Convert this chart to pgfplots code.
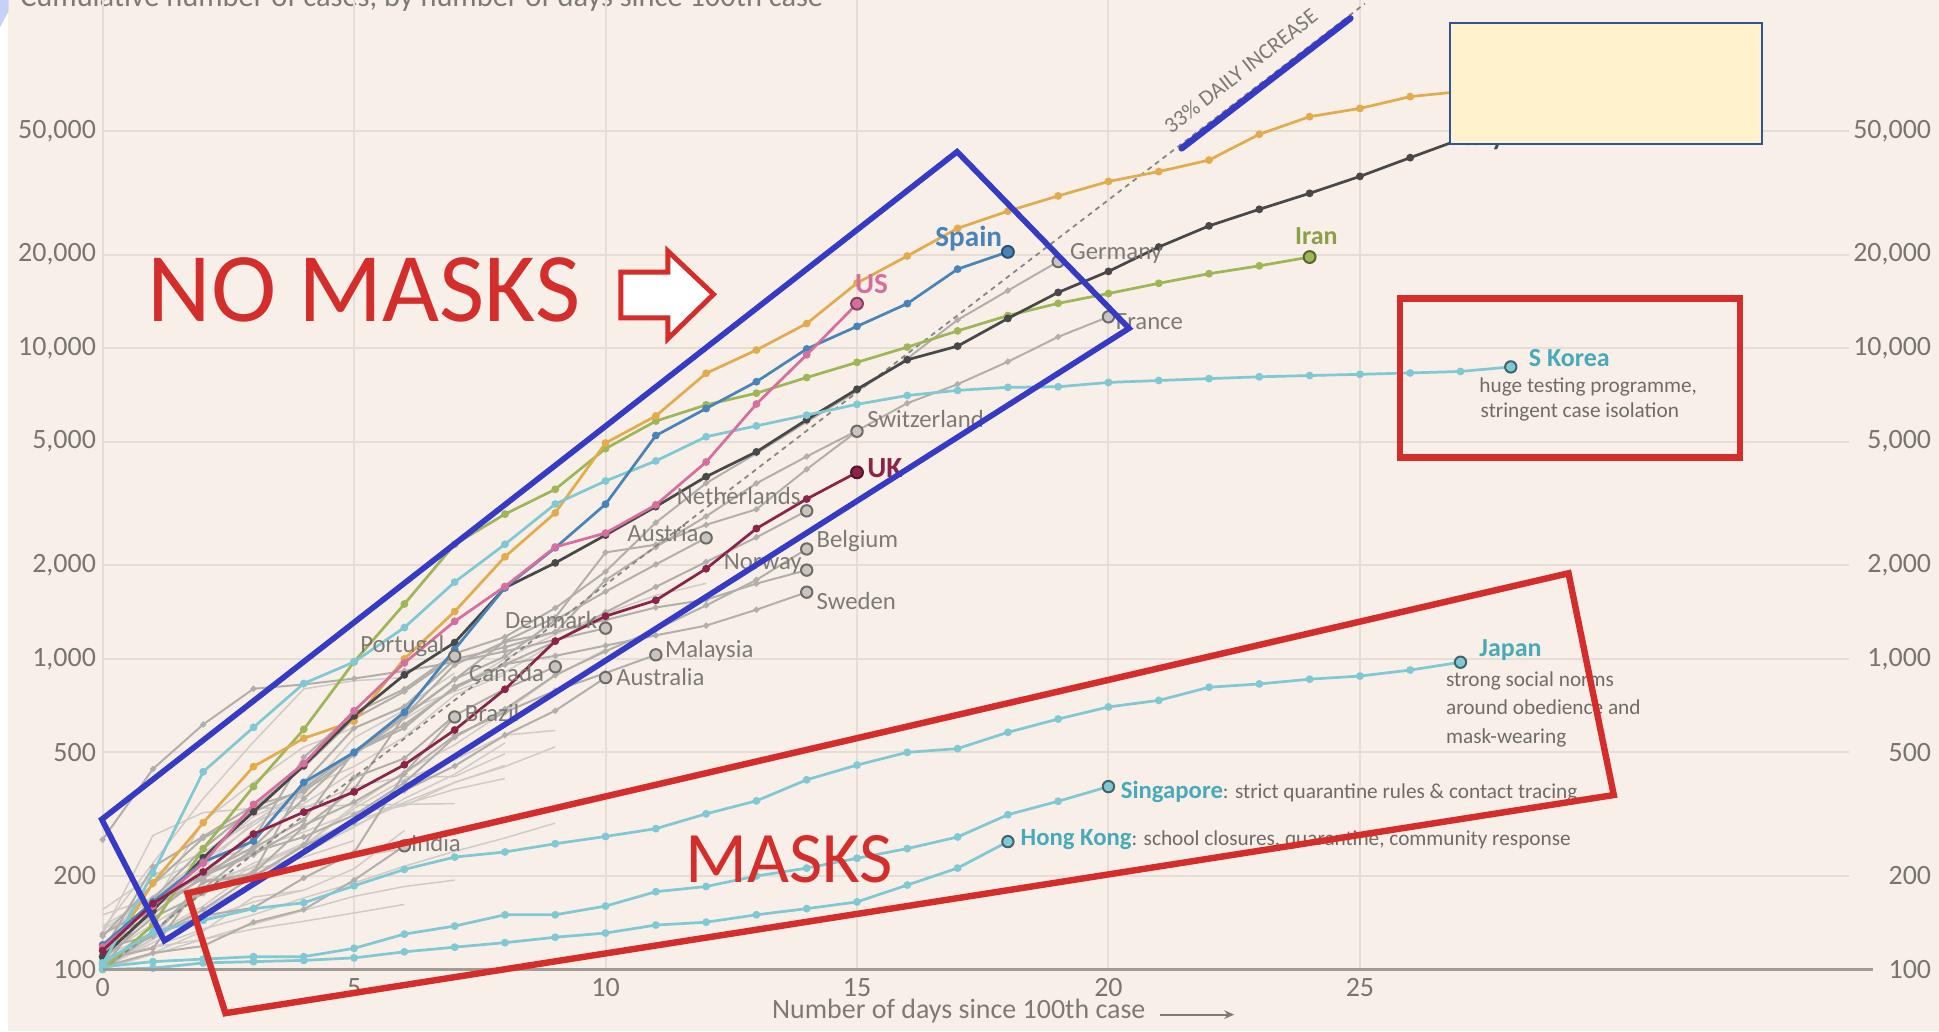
\documentclass[border=0pt]{standalone}
\usepackage{pgfplots}
\pgfplotsset{compat=1.18}
\usepackage{fontspec}
\setmainfont{Carlito}
\usetikzlibrary{arrows.meta}

\definecolor{bg}{RGB}{248,240,232}
\definecolor{gridc}{RGB}{230,222,214}
\definecolor{axisc}{RGB}{160,155,150}
\definecolor{tickc}{RGB}{120,116,112}
\definecolor{labG}{RGB}{125,122,118}
\definecolor{noteG}{RGB}{110,107,104}
\definecolor{dashC}{RGB}{135,132,128}
\definecolor{cornerC}{RGB}{198,210,245}
\definecolor{orangeL}{RGB}{226,172,78}
\definecolor{italyL}{RGB}{72,72,72}
\definecolor{spainL}{RGB}{72,132,186}
\definecolor{usL}{RGB}{214,110,158}
\definecolor{ukL}{RGB}{140,35,72}
\definecolor{iranL}{RGB}{158,182,88}
\definecolor{iranT}{RGB}{140,158,70}
\definecolor{tealL}{RGB}{128,200,210}
\definecolor{tealT}{RGB}{72,170,185}
\definecolor{grayL}{RGB}{178,174,170}
\definecolor{grayE}{RGB}{200,196,192}
\definecolor{grayD}{RGB}{110,106,102}
\definecolor{grayU}{RGB}{208,203,198}
\definecolor{annBlue}{RGB}{55,58,196}
\definecolor{annRed}{RGB}{212,46,44}
\definecolor{boxFill}{RGB}{255,242,204}
\definecolor{boxEdge}{RGB}{47,85,151}

\pgfplotsset{
  gU/.style={draw=grayU, line width=0.6pt, mark=none},
  gL/.style={draw=grayL, line width=0.8pt, mark=*, mark size=0.8pt, mark options={fill=grayL, draw=grayL}},
  cL/.style={line width=1.1pt, mark=*, mark size=1.0pt},
  endG/.style={only marks, mark=*, mark size=2.3pt, mark options={fill=grayE, draw=grayD, line width=0.8pt}},
}
\tikzset{
  glab/.style={anchor=base west, inner sep=0pt, font=\fontsize{10}{12}\selectfont, text=labG},
  clab/.style={anchor=base west, inner sep=0pt, font=\fontsize{10.5}{12}\selectfont\bfseries},
  blab/.style={anchor=base west, inner sep=0pt, font=\fontsize{11.8}{13}\selectfont\bfseries},
  note/.style={anchor=base west, inner sep=0pt, font=\fontsize{8.6}{10}\selectfont, text=noteG},
}

\begin{document}
\begin{tikzpicture}
\useasboundingbox (0,0) rectangle (784pt,-417pt);
\fill[bg] (0,0) rectangle (784pt,-417pt);
\begin{scope}[x=0.5pt,y=-0.5pt]
  \fill[white] (0,0) rectangle (6.5,834);
  \fill[cornerC] (0,0) -- (7,0) -- (7,9) -- (0,22) -- cycle;
  \begin{scope}
    \clip (0,0) rectangle (1568,834);
    \node[anchor=base west, inner sep=0pt, text=labG, font=\fontsize{12.3}{14}\selectfont] at (16,5) {Cumulative number of cases, by number of days since 100th case};
  \end{scope}
\end{scope}

% right-hand tick labels
\begin{axis}[
  at={(41.5pt,-392pt)}, anchor=south west,
  scale only axis, width=706pt, height=392pt,
  xmin=0, xmax=34.72, ymin=100, ymax=132000, ymode=log,
  hide x axis, axis y line*=right, y axis line style={draw=none},
  major tick length=0pt, yminorticks=false,
  ytick={100,200,500,1000,2000,5000,10000,20000,50000},
  yticklabels={100,200,500,{1,000},{2,000},{5,000},{10,000},{20,000},{50,000}},
  yticklabel style={font=\fontsize{11.3}{13}\selectfont, text=tickc, anchor=east, inner xsep=0pt, xshift=33.5pt},
]
\addplot[draw=none] coordinates {(0,100)};
\end{axis}

\begin{axis}[
  at={(41.5pt,-392pt)}, anchor=south west,
  scale only axis, width=706pt, height=392pt,
  xmin=0, xmax=34.72, ymin=100, ymax=132000, ymode=log,
  axis line style={draw=none},
  major tick length=0pt, yminorticks=false,
  xtick={0,5,10,15,20,25}, xticklabels={0,5,10,15,20,25},
  ytick={100,200,500,1000,2000,5000,10000,20000,50000},
  yticklabels={100,200,500,{1,000},{2,000},{5,000},{10,000},{20,000},{50,000}},
  grid=major, major grid style={draw=gridc, line width=0.8pt},
  ticklabel style={font=\fontsize{11.3}{13}\selectfont, text=tickc},
  yticklabel style={anchor=east, inner xsep=2.5pt},
  clip mode=individual,
]
% ---------- unlabelled grey countries ----------
\addplot[gU] coordinates {(0,100)(1,125)(2,155)(3,190)(4,235)(5,290)(6,345)(7,400)(8,454)};
\addplot[gU] coordinates {(0,110)(1,140)(2,175)(3,215)(4,255)(5,300)(6,340)(7,380)(8,412)};
\addplot[gU] coordinates {(0,105)(1,118)(2,135)(3,150)(4,170)(5,190)(6,215)(7,240)(8,265)(9,296)};
\addplot[gU] coordinates {(0,100)(1,112)(2,125)(3,140)(4,155)(5,172)(6,185)(7,194)};
\addplot[gU] coordinates {(0,110)(1,118)(2,125)(3,135)(4,143)(5,152)(6,162)};
\addplot[gU] coordinates {(0,130)(1,270)(2,320)(3,330)(4,335)(5,338)(6,340)(7,342)};
\addplot[gU] coordinates {(0,135)(1,220)(2,355)(3,540)(4,800)(5,850)(6,870)};
\addplot[gU] coordinates {(0,100)(1,126)(2,193)(3,213)(4,250)(5,337)(6,433)(7,529)(8,677)(9,883)(10,1071)};
\addplot[gU] coordinates {(0,129)(1,169)(2,223)(3,292)(4,366)(5,557)(6,683)(7,785)(8,906)(9,1125)};
\addplot[gU] coordinates {(0,116)(1,150)(2,214)(3,298)(4,383)(5,450)(6,560)(7,765)(8,889)};
\addplot[gU] coordinates {(0,117)(1,190)(2,228)(3,331)(4,331)(5,387)(6,418)(7,418)(8,495)};
\addplot[gU] coordinates {(0,109)(1,155)(2,225)(3,244)(4,277)(5,321)(6,336)(7,400)(8,450)(9,521)};
\addplot[gU] coordinates {(0,138)(1,171)(2,180)(3,220)(4,250)(5,330)(6,409)(7,473)(8,568)(9,588)};
\addplot[gU] coordinates {(0,104)(1,125)(2,155)(3,201)(4,238)(5,287)(6,355)(7,425)(8,536)};
\addplot[gU] coordinates {(0,156)(1,201)(2,238)(3,300)(4,342)(5,434)};
\addplot[gU] coordinates {(0,100)(1,113)(2,133)(3,171)(4,180)(5,211)(6,280)};
\addplot[gU] coordinates {(0,110)(1,130)(2,160)(3,210)(4,230)(5,260)};
\addplot[gU] coordinates {(0,134)(1,172)(2,227)(3,311)(4,369)};
\addplot[gU] coordinates {(0,101)(1,122)(2,145)(3,165)(4,180)};
\addplot[gU] coordinates {(0,150)(1,170)(2,185)(3,200)(4,215)(5,230)(6,245)};
\addplot[gU] coordinates {(0,120)(1,160)(2,300)(3,400)(4,520)(5,600)(6,700)(7,900)};
\addplot[gU] coordinates {(0,112)(1,150)(2,200)(3,280)(4,390)(5,500)(6,640)(7,800)(8,1000)(9,1200)(10,1400)(11,1600)(12,1750)};

% ---------- labelled grey countries ----------
\addplot[gL] coordinates {(0,130)(1,159)(2,196)(3,262)(4,482)(5,670)(6,799)(7,1040)(8,1176)(9,1457)(10,1908)(11,2745)(12,3675)(13,4585)(14,5795)(15,7272)(16,9257)(17,12327)(18,15320)(19,19000)}; % Germany
\addplot[gL] coordinates {(0,100)(1,130)(2,191)(3,204)(4,288)(5,380)(6,656)(7,957)(8,1134)(9,1217)(10,1792)(11,2289)(12,2876)(13,3672)(14,4480)(15,5423)(16,6650)(17,7652)(18,9043)(19,10871)(20,12612)}; % France
\addplot[gL] coordinates {(0,114)(1,214)(2,268)(3,337)(4,374)(5,491)(6,652)(7,858)(8,1139)(9,1359)(10,2200)(11,2330)(12,2700)(13,3028)(14,4075)(15,5400)}; % Switzerland
\addplot[gL] coordinates {(0,128)(1,188)(2,265)(3,321)(4,382)(5,503)(6,614)(7,804)(8,959)(9,1135)(10,1413)(11,1705)(12,2051)(13,2460)(14,2994)}; % Netherlands
\addplot[gL] coordinates {(0,104)(1,131)(2,182)(3,246)(4,302)(5,504)(6,655)(7,860)(8,1018)(9,1332)(10,1646)(11,2013)(12,2450)}; % Austria
\addplot[gL] coordinates {(0,109)(1,169)(2,200)(3,239)(4,267)(5,314)(6,399)(7,559)(8,689)(9,886)(10,1058)(11,1243)(12,1486)(13,1795)(14,2257)}; % Belgium
\addplot[gL] coordinates {(0,108)(1,147)(2,176)(3,205)(4,400)(5,598)(6,702)(7,996)(8,1090)(9,1221)(10,1333)(11,1463)(12,1550)(13,1746)(14,1930)}; % Norway
\addplot[gL] coordinates {(0,101)(1,161)(2,203)(3,248)(4,355)(5,500)(6,599)(7,814)(8,961)(9,1022)(10,1103)(11,1190)(12,1279)(13,1439)(14,1639)}; % Sweden
\addplot[gL] coordinates {(0,262)(1,442)(2,615)(3,801)(4,827)(5,864)(6,914)(7,977)(8,1057)(9,1151)(10,1255)}; % Denmark
\addplot[gL] coordinates {(0,117)(1,129)(2,149)(3,158)(4,197)(5,238)(6,428)(7,566)(8,673)(9,790)(10,900)(11,1030)}; % Malaysia
\addplot[gL] coordinates {(0,107)(1,128)(2,156)(3,200)(4,250)(5,297)(6,377)(7,452)(8,568)(9,681)(10,870)}; % Australia
\addplot[gL] coordinates {(0,108)(1,117)(2,193)(3,198)(4,252)(5,415)(6,478)(7,657)(8,800)(9,943)}; % Canada
\addplot[gL] coordinates {(0,112)(1,169)(2,245)(3,331)(4,448)(5,642)(6,785)(7,1020)}; % Portugal
\addplot[gL] coordinates {(0,121)(1,151)(2,200)(3,234)(4,291)(5,346)(6,428)(7,650)}; % Brazil
\addplot[gL] coordinates {(0,102)(1,113)(2,119)(3,142)(4,156)(5,194)(6,250)}; % India

% ---------- 33% daily increase ----------
\addplot[draw=dashC, line width=0.7pt, dash pattern=on 2pt off 1.8pt, mark=none] coordinates {(0,100)(25.1,128500)};

% ---------- highlighted countries ----------
\addplot[cL, color=iranL] coordinates {(0,100)(1,139)(2,245)(3,388)(4,593)(5,978)(6,1501)(7,2336)(8,2922)(9,3513)(10,4747)(11,5823)(12,6566)(13,7161)(14,8042)(15,9000)(16,10075)(17,11364)(18,12729)(19,13938)(20,14991)(21,16169)(22,17361)(23,18407)(24,19644)};
\addplot[cL, color=orangeL] coordinates {(0,105)(1,190)(2,297)(3,450)(4,555)(5,630)(6,1000)(7,1420)(8,2130)(9,2950)(10,4950)(11,6050)(12,8300)(13,9860)(14,12000)(15,16200)(16,19800)(17,24300)(18,27600)(19,30900)(20,34400)(21,37000)(22,40300)(23,48800)(24,55600)(25,59100)(26,64500)(27,67000)(28,69000)};
\addplot[cL, color=italyL] coordinates {(0,110)(1,155)(2,229)(3,322)(4,453)(5,655)(6,888)(7,1128)(8,1694)(9,2036)(10,2502)(11,3089)(12,3858)(13,4636)(14,5883)(15,7375)(16,9172)(17,10149)(18,12462)(19,15113)(20,17660)(21,21157)(22,24747)(23,27980)(24,31506)(25,35713)(26,41035)(27,47021)};
\addplot[cL, color=tealL] coordinates {(0,104)(1,204)(2,433)(3,602)(4,833)(5,977)(6,1261)(7,1766)(8,2337)(9,3150)(10,3736)(11,4335)(12,5186)(13,5621)(14,6088)(15,6593)(16,7041)(17,7314)(18,7478)(19,7513)(20,7755)(21,7869)(22,7979)(23,8086)(24,8162)(25,8236)(26,8320)(27,8413)(28,8700)}; % S Korea
\addplot[cL, color=tealL] coordinates {(0,105)(1,132)(2,144)(3,157)(4,164)(5,186)(6,210)(7,230)(8,239)(9,254)(10,268)(11,284)(12,317)(13,349)(14,408)(15,455)(16,500)(17,514)(18,580)(19,640)(20,700)(21,735)(22,810)(23,830)(24,860)(25,880)(26,920)(27,975)}; % Japan
\addplot[cL, color=tealL] coordinates {(0,102)(1,106)(2,108)(3,110)(4,110)(5,117)(6,130)(7,138)(8,150)(9,150)(10,160)(11,178)(12,185)(13,200)(14,212)(15,228)(16,245)(17,267)(18,315)(19,348)(20,388)}; % Singapore
\addplot[cL, color=tealL] coordinates {(0,100)(1,101)(2,105)(3,106)(4,107)(5,109)(6,114)(7,118)(8,122)(9,127)(10,131)(11,139)(12,142)(13,150)(14,157)(15,165)(16,187)(17,212)(18,258)}; % Hong Kong
\addplot[cL, color=spainL] coordinates {(0,120)(1,165)(2,222)(3,259)(4,400)(5,500)(6,673)(7,1073)(8,1695)(9,2277)(10,3146)(11,5232)(12,6391)(13,7798)(14,9942)(15,11748)(16,13910)(17,17963)(18,20410)};
\addplot[cL, color=usL] coordinates {(0,118)(1,160)(2,220)(3,340)(4,460)(5,680)(6,970)(7,1320)(8,1710)(9,2290)(10,2540)(11,3130)(12,4300)(13,6610)(14,9520)(15,13900)};
\addplot[cL, color=ukL] coordinates {(0,115)(1,163)(2,206)(3,273)(4,321)(5,373)(6,456)(7,590)(8,798)(9,1140)(10,1372)(11,1543)(12,1950)(13,2626)(14,3269)(15,3983)};

% ---------- end markers ----------
\addplot[endG] coordinates {(19,19000)(20,12612)(15,5400)(14,2994)(12,2450)(14,2257)(14,1930)(14,1639)(10,1255)(11,1030)(10,870)(9,943)(7,1020)(7,650)(6,250)};
\addplot[only marks, mark=*, mark size=2.4pt, mark options={fill=spainL, draw=spainL!60!black, line width=0.8pt}] coordinates {(18,20410)};
\addplot[only marks, mark=*, mark size=2.4pt, mark options={fill=usL, draw=usL!60!black, line width=0.8pt}] coordinates {(15,13900)};
\addplot[only marks, mark=*, mark size=2.4pt, mark options={fill=ukL, draw=ukL!60!black, line width=0.8pt}] coordinates {(15,3983)};
\addplot[only marks, mark=*, mark size=2.4pt, mark options={fill=iranL, draw=iranL!55!black, line width=0.8pt}] coordinates {(24,19644)};
\addplot[only marks, mark=*, mark size=2.3pt, mark options={fill=tealL, draw=tealL!50!black, line width=0.8pt}] coordinates {(28,8700)(27,975)(20,388)(18,258)};
\end{axis}

\begin{scope}[x=0.5pt,y=-0.5pt]
  % baseline of the plot
  \draw[axisc, line width=1pt] (83,784) -- (1515,784);
  % x label
  \node[anchor=base west, inner sep=0pt, text=labG, font=\fontsize{11.3}{13}\selectfont] at (624,824) {Number of days since 100th case};
  \draw[labG, line width=0.7pt, -{Stealth[length=4pt,width=3.5pt]}] (938,820.5) -- (998,820.5);

  % country labels
  \node[clab, text=italyL, font=\fontsize{11}{12}\selectfont\bfseries] at (1176,118) {Italy};
  \node[blab, text=spainL] at (756,199) {Spain};
  \node[blab, text=usL] at (691,237) {US};
  \node[blab, text=ukL] at (701,386.5) {UK};
  \node[clab, text=iranT] at (1047,198) {Iran};
  \node[clab, text=tealT] at (1236,296.5) {S Korea};
  \node[note] at (1196,317.5) {huge testing programme,};
  \node[note] at (1197,338) {stringent case isolation};
  \node[clab, text=tealT] at (1196,530.5) {Japan};
  \node[note] at (1169,555) {strong social norms};
  \node[note] at (1169,578) {around obedience and};
  \node[note] at (1169,601) {mask-wearing};
  \node[anchor=base west, inner sep=0pt] at (906,646) {\fontsize{10}{12}\selectfont\bfseries\color{tealT}Singapore\mdseries\fontsize{8.6}{10}\selectfont\color{noteG}: strict quarantine rules \& contact tracing};
  \node[anchor=base west, inner sep=0pt] at (825,684) {\fontsize{10}{12}\selectfont\bfseries\color{tealT}Hong Kong\mdseries\fontsize{8.6}{10}\selectfont\color{noteG}: school closures, quarantine, community response};
  \node[glab] at (865,210) {Germany};
  \node[glab] at (902,266.5) {France};
  \node[glab] at (701,346) {Switzerland};
  \node[glab] at (547,408) {Netherlands};
  \node[glab] at (507,438) {Austria};
  \node[glab] at (660,443) {Belgium};
  \node[glab] at (585,460.5) {Norway};
  \node[glab] at (660,493) {Sweden};
  \node[glab] at (408,508) {Denmark};
  \node[glab] at (537.5,532) {Malaysia};
  \node[glab] at (498,554) {Australia};
  \node[glab] at (291,528) {Portugal};
  \node[glab] at (379,551) {Canada};
  \node[glab] at (375.5,583.5) {Brazil};
  \node[glab] at (332,688.5) {India};
  \node[anchor=base west, inner sep=0pt, rotate=38, text=labG, font=\fontsize{9}{10}\selectfont] at (947,109) {33\% DAILY INCREASE};

  % annotations
  \draw[boxEdge, fill=boxFill, line width=0.8pt] (1172.6,18.3) rectangle (1424.5,116.5);
  \draw[annBlue, line width=2.6pt, line cap=round] (955.5,120) -- (1092,14.8);
  \draw[annBlue, line width=2.3pt, line join=miter] (82.3,662.6) -- (774,122.7) -- (913,265.5) -- (132.9,760.7) -- cycle;
  \draw[annRed, line width=2.6pt] (151.6,722.4) -- (1268.4,463.6) -- (1305,642.9) -- (182.3,819.3) -- cycle;
  \draw[annRed, line width=2.6pt] (1132,241.5) rectangle (1407,370);
  \draw[annRed, line width=2pt, fill=white, line join=miter] (502,220) -- (540,220) -- (540,203) -- (577,238) -- (540,274) -- (540,257) -- (502,257) -- cycle;
  \node[anchor=base west, inner sep=0pt, text=annRed, font=\fontsize{39.8}{44}\selectfont] at (119,260) {NO MASKS};
  \node[anchor=base west, inner sep=0pt, text=annRed, font=\fontsize{29.3}{33}\selectfont] at (554,714) {MASKS};
\end{scope}
\end{tikzpicture}
\end{document}
